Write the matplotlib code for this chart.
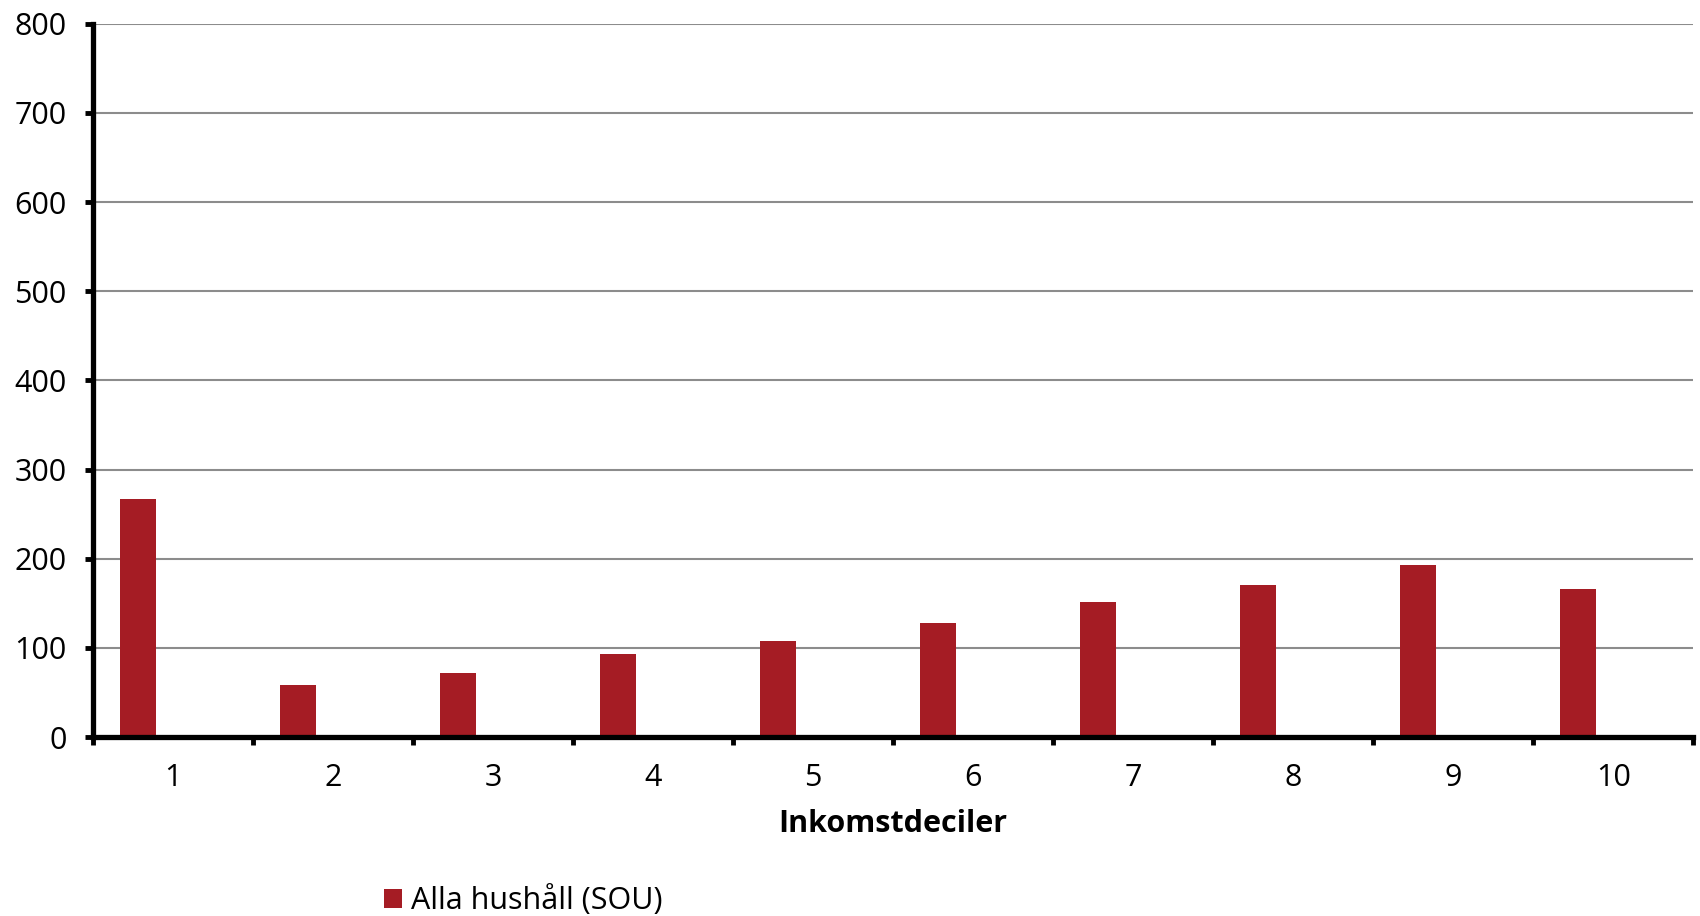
import matplotlib
matplotlib.use("Agg")
import matplotlib.pyplot as plt
import numpy as np
from matplotlib.patches import Patch

categories = ["1", "2", "3", "4", "5", "6", "7", "8", "9", "10"]
values = [267, 58, 71.5, 93.5, 107.5, 128, 151, 171, 193, 166]
series_name = "Alla hushåll (SOU)"
x_label = "Inkomstdeciler"
y_ticks = [0, 100, 200, 300, 400, 500, 600, 700, 800]

plt.rcParams['font.family'] = ['Open Sans', 'DejaVu Sans']

fig = plt.figure(figsize=(17, 9.16), dpi=100)
ax = fig.add_axes([0.0547, 0.1954, 0.996 - 0.0547, 0.974 - 0.1954])

bar_color = "#A51C24"
xpos = np.arange(len(categories))
ax.bar(xpos - 0.22, values, width=0.225, color=bar_color, zorder=3)

ax.set_xlim(-0.5, len(categories) - 0.5)
ax.set_ylim(0, 800)
ax.set_yticks(y_ticks)
ax.set_yticklabels([str(t) for t in y_ticks], fontsize=22)
ax.yaxis.grid(True, color="#8c8c8c", linewidth=1.5, zorder=0)
ax.set_axisbelow(True)

# x: major ticks at boundaries, labels at centers
ax.set_xticks(np.arange(-0.5, len(categories), 1.0))
ax.set_xticklabels([])
ax.set_xticks(xpos, minor=True)
ax.set_xticklabels(categories, minor=True, fontsize=22)
ax.tick_params(axis='x', which='minor', length=0, pad=19)
ax.tick_params(axis='x', which='major', length=6, width=3.5, direction='out', color='black')
ax.tick_params(axis='y', length=6, width=3.5, direction='out', pad=13, color='black')

for s in ['top', 'right']:
    ax.spines[s].set_visible(False)
for s in ['left', 'bottom']:
    ax.spines[s].set_linewidth(3.8)
    ax.spines[s].set_color('black')
ax.spines['left'].set_zorder(5)
ax.spines['bottom'].set_zorder(5)

ax.set_xlabel(x_label, fontsize=22, fontweight='bold', labelpad=11)

handle = Patch(facecolor=bar_color, edgecolor='none')
fig.legend([handle], [series_name], loc='center left',
           bbox_to_anchor=(356 / 1700, 1 - 901 / 916), frameon=False,
           fontsize=22, handlelength=0.6, handleheight=0.6, handletextpad=0.3)

fig.savefig("out.png", dpi=100)
